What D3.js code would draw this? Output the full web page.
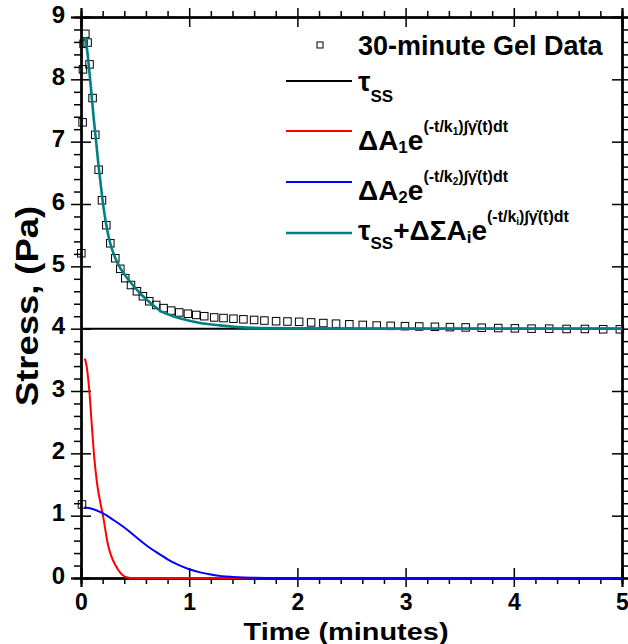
<!DOCTYPE html>
<html>
<head>
<meta charset="utf-8">
<script src="https://cdn.jsdelivr.net/npm/d3@7"></script>
<style>
  body { margin: 0; background: #fff; }
  text { font-family: "Liberation Sans", Arial, sans-serif; font-weight: bold; fill: #000; }
</style>
</head>
<body>
<div id="chart"></div>
<script>
// ---- data ----
const gelTime = [0.003, 0.009, 0.015, 0.018, 0.024, 0.040, 0.061, 0.079, 0.107, 0.132, 0.163, 0.194, 0.234,
  0.271, 0.317, 0.363, 0.409, 0.462, 0.517, 0.572, 0.631, 0.695, 0.763, 0.834, 0.908, 0.988, 1.065,
  1.139, 1.231, 1.317, 1.409, 1.501, 1.600, 1.695, 1.803, 1.908, 2.016, 2.127, 2.240, 2.357, 2.480,
  2.604, 2.733, 2.862, 2.994, 3.126, 3.271, 3.410, 3.555, 3.703, 3.856, 4.010, 4.164, 4.327, 4.488,
  4.657, 4.826, 4.980];
const gelStress = [5.21, 1.18, 7.31, 8.16, 8.57, 8.73, 8.59, 8.24, 7.70, 7.11, 6.55, 6.06, 5.66,
  5.37, 5.13, 4.96, 4.81, 4.70, 4.60, 4.52, 4.44, 4.38, 4.33, 4.29, 4.26, 4.24, 4.22,
  4.20, 4.18, 4.17, 4.16, 4.15, 4.14, 4.13, 4.12, 4.115, 4.11, 4.10, 4.09, 4.08, 4.07,
  4.06, 4.05, 4.045, 4.04, 4.035, 4.03, 4.025, 4.02, 4.015, 4.01, 4.005, 4.00, 4.00, 3.995,
  3.995, 3.99, 3.99];

const tauSS = 4.0;

const a1Time = [0.035, 0.05, 0.077, 0.10, 0.117, 0.15, 0.18, 0.203, 0.25, 0.28, 0.32, 0.36, 0.39, 0.42, 0.46, 1.0, 5.0];
const a1Stress = [3.52, 3.42, 3.00, 2.45, 2.05, 1.50, 1.20, 1.00, 0.53, 0.35, 0.20, 0.09, 0.04, 0.012, 0.0, 0.0, 0.0];

const a2Time = [0.03, 0.1, 0.2, 0.3, 0.4, 0.5, 0.6, 0.7, 0.8, 0.9, 1.0, 1.1, 1.2, 1.3, 1.4, 1.5, 1.6, 1.8, 2.0, 5.0];
const a2Stress = [1.13, 1.11, 1.04, 0.93, 0.81, 0.67, 0.53, 0.41, 0.30, 0.21, 0.14, 0.09, 0.055, 0.03, 0.017, 0.008, 0.004, 0.0, 0.0, 0.0];

const fitTime = [0.04, 0.06, 0.08, 0.10, 0.12, 0.14, 0.16, 0.18, 0.20, 0.23, 0.27, 0.32, 0.37, 0.45, 0.55,
  0.65, 0.75, 0.85, 0.95, 1.1, 1.27, 1.45, 1.6, 2.0, 3.0, 5.0];
const fitStress = [8.68, 8.42, 8.08, 7.70, 7.33, 7.00, 6.65, 6.35, 6.05, 5.70, 5.37, 5.12, 4.95, 4.76, 4.56,
  4.40, 4.27, 4.20, 4.15, 4.09, 4.055, 4.025, 4.012, 4.005, 4.0, 4.0];

const xTicks = [0, 1, 2, 3, 4, 5];
const yTicks = [0, 1, 2, 3, 4, 5, 6, 7, 8, 9];

// ---- layout ----
const W = 628, H = 644;
const margin = {top: 17, right: 6, bottom: 66, left: 81};
const width = W - margin.left - margin.right;
const height = H - margin.top - margin.bottom;

const svg = d3.select("#chart").append("svg")
  .attr("width", W).attr("height", H);
const g = svg.append("g").attr("transform", `translate(${margin.left},${margin.top})`);

const x = d3.scaleLinear().domain([0, 5]).range([0, width]);
const y = d3.scaleLinear().domain([0, 9]).range([height, 0]);

const xMinor = d3.range(0, 5.001, 0.2).filter(v => Math.abs(v - Math.round(v)) > 0.01);
const yMinor = d3.range(0, 9.001, 0.2).filter(v => Math.abs(v - Math.round(v)) > 0.01);

function styleAxis(sel) {
  sel.select(".domain").attr("stroke", "#000").attr("stroke-width", 2);
  sel.selectAll(".tick line").attr("stroke", "#000").attr("stroke-width", 1.5);
}

// bottom
g.append("g").attr("transform", `translate(0,${height})`)
  .call(d3.axisBottom(x).tickValues(xTicks).tickSize(9).tickPadding(7).tickFormat(d3.format("d")))
  .call(styleAxis)
  .selectAll("text").style("font-size", "23px").style("font-family", "'Liberation Sans', Arial, sans-serif").style("font-weight", "bold");
g.append("g").attr("transform", `translate(0,${height})`)
  .call(d3.axisTop(x).tickValues(xTicks).tickSize(10).tickFormat(""))
  .call(styleAxis);
g.append("g").attr("transform", `translate(0,${height})`)
  .call(d3.axisBottom(x).tickValues(xMinor).tickSize(6).tickFormat(""))
  .call(styleAxis);

// top
g.append("g")
  .call(d3.axisTop(x).tickValues(xTicks).tickSize(9).tickFormat(""))
  .call(styleAxis);
g.append("g")
  .call(d3.axisBottom(x).tickValues(xTicks).tickSize(10).tickFormat(""))
  .call(styleAxis);
g.append("g")
  .call(d3.axisTop(x).tickValues(xMinor).tickSize(6).tickFormat(""))
  .call(styleAxis);

// left
g.append("g")
  .call(d3.axisLeft(y).tickValues(yTicks).tickSize(10).tickPadding(6).tickFormat(d3.format("d")))
  .call(styleAxis)
  .selectAll("text").attr("dy", "0.22em")
  .style("font-size", "24px").style("font-family", "'Liberation Sans', Arial, sans-serif").style("font-weight", "bold");
g.append("g")
  .call(d3.axisRight(y).tickValues(yTicks).tickSize(10).tickFormat(""))
  .call(styleAxis);
g.append("g")
  .call(d3.axisLeft(y).tickValues(yMinor).tickSize(7).tickFormat(""))
  .call(styleAxis);

// right
g.append("g").attr("transform", `translate(${width},0)`)
  .call(d3.axisRight(y).tickValues(yTicks).tickSize(6).tickFormat(""))
  .call(styleAxis);
g.append("g").attr("transform", `translate(${width},0)`)
  .call(d3.axisLeft(y).tickValues(yTicks).tickSize(10).tickFormat(""))
  .call(styleAxis);
g.append("g").attr("transform", `translate(${width},0)`)
  .call(d3.axisRight(y).tickValues(yMinor).tickSize(6).tickFormat(""))
  .call(styleAxis);

// ---- curves ----
const line = d3.line()
  .x(d => x(d[0]))
  .y(d => y(d[1]))
  .curve(d3.curveMonotoneX);

g.append("path")
  .datum([[0, tauSS], [5, tauSS]])
  .attr("d", line).attr("fill", "none").attr("stroke", "#000").attr("stroke-width", 2);

g.append("path")
  .datum(d3.zip(a1Time, a1Stress))
  .attr("d", line).attr("fill", "none").attr("stroke", "#ff0000").attr("stroke-width", 2);

g.append("path")
  .datum(d3.zip(a2Time, a2Stress))
  .attr("d", line).attr("fill", "none").attr("stroke", "#0000ff").attr("stroke-width", 2);

const sq = 7.5;
g.selectAll(".gel")
  .data(d3.zip(gelTime, gelStress))
  .enter().append("rect")
  .attr("class", "gel")
  .attr("x", d => x(d[0]) - sq / 2)
  .attr("y", d => y(d[1]) - sq / 2)
  .attr("width", sq).attr("height", sq)
  .attr("fill", "none").attr("stroke", "#000").attr("stroke-width", 1);

g.append("path")
  .datum(d3.zip(fitTime, fitStress))
  .attr("d", line).attr("fill", "none").attr("stroke", "#008080").attr("stroke-width", 2.6);

// ---- axis titles ----
svg.append("text")
  .attr("x", 346).attr("y", 640)
  .attr("text-anchor", "middle")
  .attr("textLength", 205).attr("lengthAdjust", "spacingAndGlyphs")
  .style("font-size", "24px")
  .text("Time (minutes)");

svg.append("text")
  .attr("transform", "translate(38,306) rotate(-90)")
  .attr("text-anchor", "middle")
  .attr("textLength", 200).attr("lengthAdjust", "spacingAndGlyphs")
  .style("font-size", "31px")
  .text("Stress, (Pa)");

// ---- legend ----
const legend = svg.append("g");
legend.append("rect")
  .attr("x", 317).attr("y", 42).attr("width", 6).attr("height", 6)
  .attr("fill", "none").attr("stroke", "#000").attr("stroke-width", 1);
legend.append("text").attr("x", 358).attr("y", 55).style("font-size", "27px").text("30-minute Gel Data");

const legendRows = [
  {color: "#000", y: 81},
  {color: "#ff0000", y: 131},
  {color: "#0000ff", y: 182},
  {color: "#008080", y: 233}
];
legend.selectAll(".lg-line")
  .data(legendRows)
  .enter().append("line")
  .attr("x1", 286).attr("x2", 352)
  .attr("y1", d => d.y).attr("y2", d => d.y)
  .attr("stroke", d => d.color).attr("stroke-width", (d, i) => i === 3 ? 2.6 : 2);

function addSup(t, k) {
  t.append("tspan").attr("dy", -18).style("font-size", "16px").text("(-t/k");
  t.append("tspan").attr("dy", 3).style("font-size", "10px").text(k);
  t.append("tspan").attr("dy", -3).style("font-size", "16px").text(")\u222B\u03B3\u0307(t)dt");
}

// tau_ss
let t0 = legend.append("text").attr("x", 358).attr("y", 91).style("font-size", "28px");
t0.append("tspan").text("\u03C4");
t0.append("tspan").attr("dy", 11).style("font-size", "17px").text("SS");

// A1
let t1 = legend.append("text").attr("x", 358).attr("y", 150).style("font-size", "28px");
t1.append("tspan").text("\u0394A");
t1.append("tspan").attr("dy", 3).style("font-size", "17px").text("1");
t1.append("tspan").attr("dy", -3).text("e");
addSup(t1, "1");

// A2
let t2 = legend.append("text").attr("x", 358).attr("y", 200).style("font-size", "28px");
t2.append("tspan").text("\u0394A");
t2.append("tspan").attr("dy", 3).style("font-size", "17px").text("2");
t2.append("tspan").attr("dy", -3).text("e");
addSup(t2, "2");

// sum
let t3 = legend.append("text").attr("x", 358).attr("y", 240).style("font-size", "28px");
t3.append("tspan").text("\u03C4");
t3.append("tspan").attr("dy", 9).style("font-size", "17px").text("SS");
t3.append("tspan").attr("dy", -9).text("+\u0394\u03A3A");
t3.append("tspan").attr("dy", 3).style("font-size", "17px").text("i");
t3.append("tspan").attr("dy", -3).text("e");
addSup(t3, "i");
</script>
</body>
</html>
